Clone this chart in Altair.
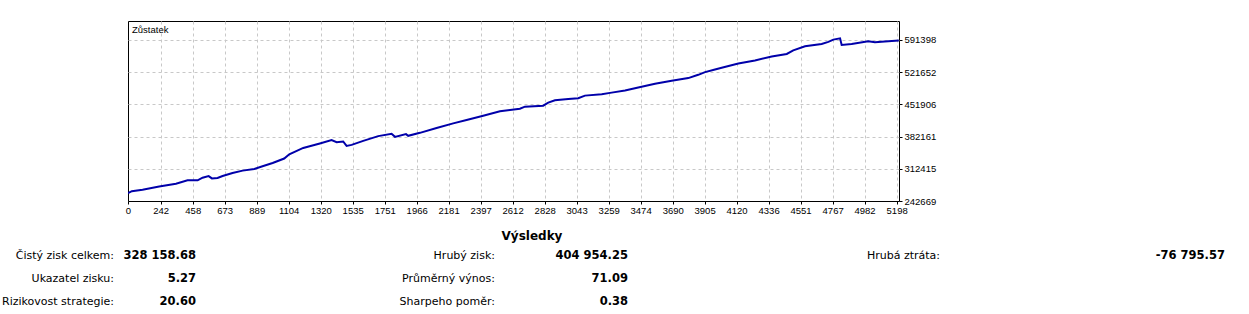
import altair as alt
import pandas as pd

# ---------------- data ----------------
TRADE = [22, 48, 120, 232, 345, 423, 491, 524, 565, 587, 625, 659, 726, 794, 872, 928,
         996, 1074, 1108, 1202, 1314, 1393, 1427, 1471, 1494, 1528, 1606, 1707, 1797,
         1820, 1894, 1909, 1988, 2100, 2212, 2302, 2414, 2527, 2661, 2695, 2818, 2852,
         2897, 2987, 3054, 3099, 3212, 3279, 3369, 3458, 3571, 3683, 3795, 3862, 3908,
         3975, 4020, 4132, 4244, 4357, 4458, 4502, 4581, 4693, 4738, 4772, 4817, 4828,
         4895, 5007, 5052, 5119, 5213]
BALANCE = [259600, 264000, 267000, 274200, 280100, 287300, 287300, 293100, 296600,
           291600, 292300, 296600, 303100, 308400, 311800, 317700, 324900, 334500,
           343800, 357500, 367100, 374300, 369900, 371400, 361900, 364000, 372700,
           383000, 388000, 381400, 387300, 383600, 390100, 400400, 410600, 417800,
           427100, 436700, 442300, 446700, 448900, 455400, 460600, 463400, 465000,
           470600, 473700, 477100, 481500, 488000, 496100, 502600, 508500, 515600,
           521500, 527200, 530900, 540200, 546700, 555400, 560700, 568500, 577200,
           582400, 586800, 591800, 594600, 580200, 582400, 588100, 585900, 587400,
           589600]

X_TICKS = [0, 242, 458, 673, 889, 1104, 1320, 1535, 1751, 1966, 2181, 2397, 2612,
           2828, 3043, 3259, 3474, 3690, 3905, 4120, 4336, 4551, 4767, 4982, 5198]
Y_TICKS = [242669, 312415, 382161, 451906, 521652, 591398]

SERIES_NAME = "Zůstatek"
TABLE_TITLE = "Výsledky"
COL1_LABELS = ["Čistý zisk celkem:", "Ukazatel zisku:", "Rizikovost strategie:"]
COL1_VALUES = ["328 158.68", "5.27", "20.60"]
COL2_LABELS = ["Hrubý zisk:", "Průměrný výnos:", "Sharpeho poměr:"]
COL2_VALUES = ["404 954.25", "71.09", "0.38"]
COL3_LABELS = ["Hrubá ztráta:"]
COL3_VALUES = ["-76 795.57"]

# ---------------- layout ----------------
X_MIN, X_MAX = 22, 5214
Y_MIN, Y_MAX = 242669, 632000
W, H = 771, 180
PAD = {"left": 128, "top": 21, "right": 1249 - 128 - W, "bottom": 314 - 21 - H}

LINE_COLOR = "#0000AA"
TICK_FONT = "Liberation Sans"
TABLE_FONT = "DejaVu Sans"
GRID_COLOR = "#C8C8C8"

df = pd.DataFrame({"trade": TRADE, "balance": BALANCE})

x_tick_vals = [X_MIN] + X_TICKS[1:]

line = alt.Chart(df).mark_line(color=LINE_COLOR, strokeWidth=2, clip=True).encode(
    x=alt.X(
        "trade:Q",
        scale=alt.Scale(domain=[X_MIN, X_MAX], nice=False, zero=False),
        axis=alt.Axis(
            values=x_tick_vals,
            labelExpr=f"datum.value == {X_MIN} ? '{X_TICKS[0]}' : format(datum.value, 'd')",
            title=None,
            grid=True,
            gridColor=GRID_COLOR,
            gridDash=[3, 3],
            gridWidth=1,
            gridOpacity=alt.condition(f"datum.value == {X_MIN}", alt.value(0), alt.value(1)),
            domain=False,
            ticks=True,
            tickSize=3,
            tickColor="#000000",
            labelFont=TICK_FONT,
            labelFontSize=9.5,
            labelColor="#000000",
            labelPadding=1,
            labelFlush=False,
            labelOverlap=False,
        ),
    ),
    y=alt.Y(
        "balance:Q",
        scale=alt.Scale(domain=[Y_MIN, Y_MAX], nice=False, zero=False),
        axis=alt.Axis(
            orient="right",
            values=Y_TICKS,
            format="d",
            title=None,
            grid=True,
            gridColor=GRID_COLOR,
            gridDash=[3, 3],
            gridWidth=1,
            gridOpacity=alt.condition(f"datum.value == {Y_MIN}", alt.value(0), alt.value(1)),
            domain=False,
            ticks=True,
            tickSize=3,
            tickColor="#000000",
            labelFont=TICK_FONT,
            labelFontSize=9.5,
            labelColor="#000000",
            labelPadding=2,
            labelFlush=False,
            labelOverlap=False,
        ),
    ),
)


def text_layer(txt, px, py, align="right", bold=False, size=11, font=TABLE_FONT):
    return alt.Chart(pd.DataFrame({"t": [txt]})).mark_text(
        align=align,
        baseline="middle",
        font=font,
        fontSize=size,
        fontWeight="bold" if bold else "normal",
        color="#000000",
    ).encode(text="t:N", x=alt.value(px), y=alt.value(py))


layers = [line, text_layer(SERIES_NAME, 4, 9, align="left", size=9.5, font=TICK_FONT)]

# results table (positions relative to plot origin)
layers.append(text_layer(TABLE_TITLE, 404, 215, align="center", bold=True, size=12))
ROW_Y = [235, 258, 281]
COLS = [
    (COL1_LABELS, COL1_VALUES, -14, 68),
    (COL2_LABELS, COL2_VALUES, 367, 500),
    (COL3_LABELS, COL3_VALUES, 812, 1097),
]
for labels, values, lx, vx in COLS:
    for i, (lab, val) in enumerate(zip(labels, values)):
        layers.append(text_layer(lab, lx, ROW_Y[i]))
        layers.append(text_layer(val, vx, ROW_Y[i], bold=True, size=11.5))

chart = alt.layer(*layers).properties(
    width=W,
    height=H,
    autosize=alt.AutoSizeParams(type="none"),
    padding=PAD,
    background="#FFFFFF",
).configure_view(stroke="#000000", strokeWidth=1)

chart.save("out.html", embed_options={"renderer": "svg", "actions": False})
